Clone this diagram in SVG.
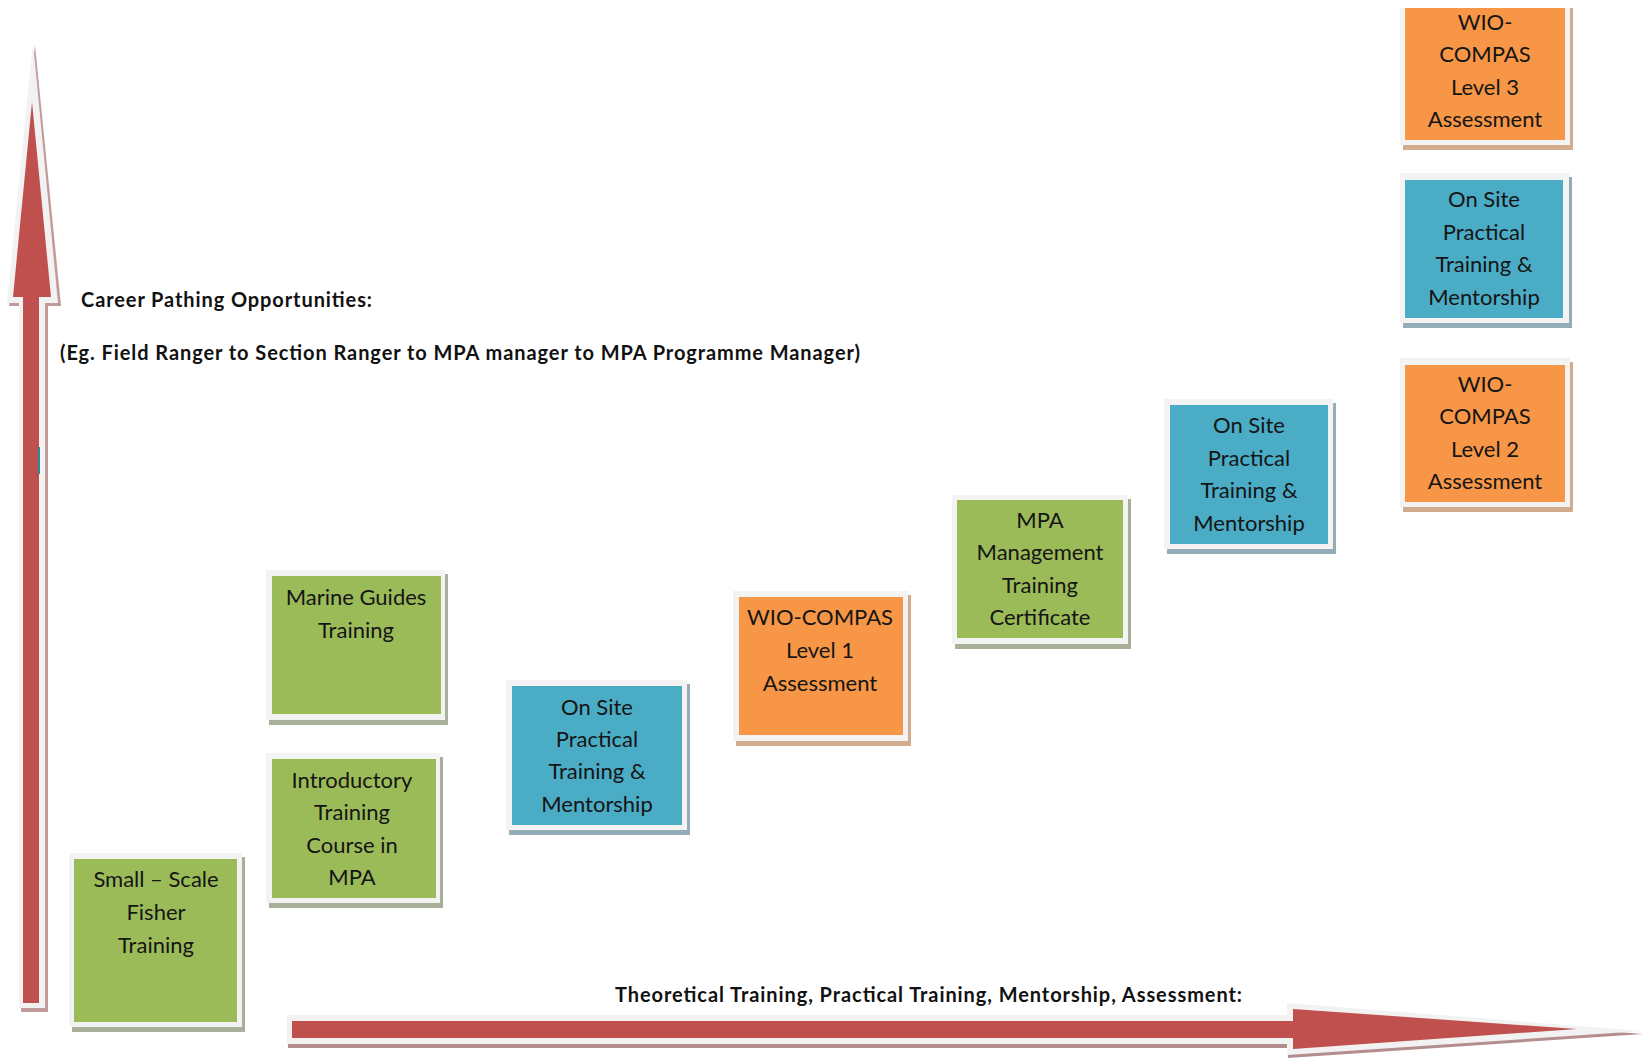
<svg xmlns="http://www.w3.org/2000/svg" width="1643" height="1059" viewBox="0 0 1643 1059">
<style>
.frame{fill:#f3f3f3}
.sg{fill:#a9b09a}
.sb{fill:#93acb6}
.so{fill:#d2aa8c}
.g{fill:#9BBB59}
.b{fill:#4BACC6}
.o{fill:#F79646}
.t{font-family:Lato,"Liberation Sans",sans-serif;font-size:22px;fill:#151515;text-anchor:middle}
.h{font-family:Lato,"Liberation Sans",sans-serif;font-size:20px;font-weight:bold;fill:#111}
</style>
<rect width="1643" height="1059" fill="#ffffff"/>
<g id="connectors">
  <g id="vertical-arrow">
    <polygon points="35,45 61,306 48,306 48,1012 21,1012 21,306 9,306" fill="#c39a9a"/>
    <polygon points="33,42 58,303 45,303 45,1008 19,1008 19,303 7,303" fill="#f2f2f2"/>
    <polygon points="32,102 51,297 39,297 39,1003 23,1003 23,297 13,297" fill="#C0504D"/>
    <rect x="38" y="447" width="2" height="27" fill="#2e8b8f"/>
  </g>
  <g id="horizontal-arrow">
    <polygon points="288,1018 1288,1018 1288,1006 1643,1034 1288,1058 1288,1048 288,1048" fill="#b48e8e"/>
    <polygon points="287,1015 1287,1015 1287,1003 1643,1031 1287,1055 1287,1044 287,1044" fill="#f2f2f2"/>
    <polygon points="292,1021 1293,1021 1293,1009 1577,1029 1293,1049 1293,1038 292,1038" fill="#C0504D"/>
  </g>
</g>
<g id="labels">
  <text class="h" x="81" y="307" textLength="291">Career Pathing Opportunities:</text>
  <text class="h" x="60" y="360" textLength="800">(Eg. Field Ranger to Section Ranger to MPA manager to MPA Programme Manager)</text>
  <text class="h" x="615" y="1002" textLength="627">Theoretical Training, Practical Training, Mentorship, Assessment:</text>
</g>
<g id="node-small-scale">
  <rect class="sg" x="72" y="857" width="173" height="175"/>
  <rect class="frame" x="69" y="853" width="173" height="174"/>
  <rect class="g" x="74" y="859" width="163" height="163"/>
  <text class="t" x="156" y="887">Small – Scale</text>
  <text class="t" x="156" y="920">Fisher</text>
  <text class="t" x="156" y="953">Training</text>
</g>
<g id="node-marine-guides">
  <rect class="sg" x="269" y="574" width="179" height="151"/>
  <rect class="frame" x="266" y="570" width="179" height="150"/>
  <rect class="g" x="272" y="576" width="169" height="138"/>
  <text class="t" x="356" y="605">Marine Guides</text>
  <text class="t" x="356" y="638">Training</text>
</g>
<g id="node-introductory">
  <rect class="sg" x="269" y="757" width="174" height="151"/>
  <rect class="frame" x="266" y="753" width="174" height="150"/>
  <rect class="g" x="272" y="759" width="164" height="139"/>
  <text class="t" x="352" y="788">Introductory</text>
  <text class="t" x="352" y="820">Training</text>
  <text class="t" x="352" y="853">Course in</text>
  <text class="t" x="352" y="885">MPA</text>
</g>
<g id="node-onsite-1">
  <rect class="sb" x="509" y="684" width="181" height="151"/>
  <rect class="frame" x="506" y="680" width="181" height="150"/>
  <rect class="b" x="512" y="686" width="170" height="139"/>
  <text class="t" x="597" y="715">On Site</text>
  <text class="t" x="597" y="747">Practical</text>
  <text class="t" x="597" y="779">Training &amp;</text>
  <text class="t" x="597" y="812">Mentorship</text>
</g>
<g id="node-wio-level1">
  <rect class="so" x="736" y="595" width="175" height="151"/>
  <rect class="frame" x="733" y="591" width="175" height="150"/>
  <rect class="o" x="739" y="597" width="164" height="138"/>
  <text class="t" x="820" y="625">WIO-COMPAS</text>
  <text class="t" x="820" y="658">Level 1</text>
  <text class="t" x="820" y="691">Assessment</text>
</g>
<g id="node-mpa-management">
  <rect class="sg" x="955" y="499" width="176" height="150"/>
  <rect class="frame" x="952" y="495" width="176" height="149"/>
  <rect class="g" x="957" y="500" width="166" height="138"/>
  <text class="t" x="1040" y="528">MPA</text>
  <text class="t" x="1040" y="560">Management</text>
  <text class="t" x="1040" y="593">Training</text>
  <text class="t" x="1040" y="625">Certificate</text>
</g>
<g id="node-onsite-2">
  <rect class="sb" x="1167" y="403" width="169" height="151"/>
  <rect class="frame" x="1164" y="399" width="169" height="150"/>
  <rect class="b" x="1170" y="405" width="158" height="139"/>
  <text class="t" x="1249" y="433">On Site</text>
  <text class="t" x="1249" y="466">Practical</text>
  <text class="t" x="1249" y="498">Training &amp;</text>
  <text class="t" x="1249" y="531">Mentorship</text>
</g>
<g id="node-wio-level2">
  <rect class="so" x="1403" y="362" width="170" height="150"/>
  <rect class="frame" x="1400" y="358" width="170" height="149"/>
  <rect class="o" x="1405" y="365" width="160" height="137"/>
  <text class="t" x="1485" y="392">WIO-</text>
  <text class="t" x="1485" y="424">COMPAS</text>
  <text class="t" x="1485" y="457">Level 2</text>
  <text class="t" x="1485" y="489">Assessment</text>
</g>
<g id="node-onsite-3">
  <rect class="sb" x="1403" y="177" width="169" height="151"/>
  <rect class="frame" x="1400" y="173" width="169" height="150"/>
  <rect class="b" x="1405" y="180" width="158" height="138"/>
  <text class="t" x="1484" y="207">On Site</text>
  <text class="t" x="1484" y="240">Practical</text>
  <text class="t" x="1484" y="272">Training &amp;</text>
  <text class="t" x="1484" y="305">Mentorship</text>
</g>
<g id="node-wio-level3">
  <rect class="so" x="1403" y="8" width="170" height="142"/>
  <rect class="frame" x="1400" y="8" width="170" height="137"/>
  <rect class="o" x="1405" y="8" width="160" height="132"/>
  <text class="t" x="1485" y="30">WIO-</text>
  <text class="t" x="1485" y="62">COMPAS</text>
  <text class="t" x="1485" y="95">Level 3</text>
  <text class="t" x="1485" y="127">Assessment</text>
</g>
</svg>
